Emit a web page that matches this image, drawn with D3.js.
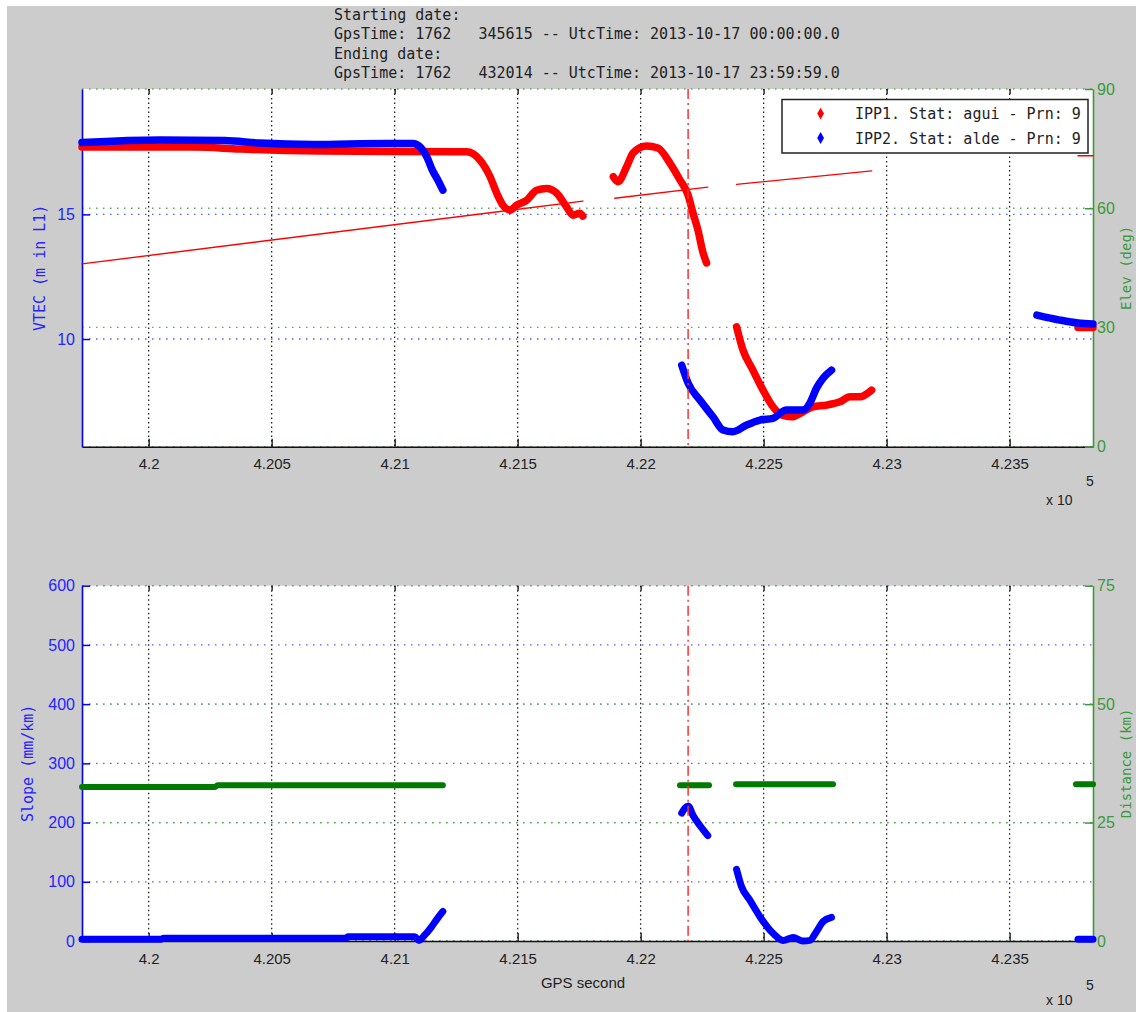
<!DOCTYPE html>
<html><head><meta charset="utf-8">
<script src="https://cdn.jsdelivr.net/npm/d3@7"></script>
<style>
body{margin:0;background:#fff;}
svg{display:block;}
</style></head><body>
<svg id="chart" width="1136" height="1012"></svg>
<script>
// ---- shared time axis (GPS seconds of week) ----
const xTicks = [420000, 420500, 421000, 421500, 422000, 422500, 423000, 423500];
const xDomain = [419729, 423839];
const eventTime = 422193;            // vertical dash-dot marker

// ---- axis ticks ----
const vtecTicks = [10, 15];
const elevTicks = [0, 30, 60, 90];
const slopeTicks = [0, 100, 200, 300, 400, 500, 600];
const distTicks = [0, 25, 50, 75];

// ---- header and legend text ----
const headerLines = [
  "Starting date:",
  "GpsTime: 1762   345615 -- UtcTime: 2013-10-17 00:00:00.0",
  "Ending date:",
  "GpsTime: 1762   432014 -- UtcTime: 2013-10-17 23:59:59.0"
];
const legendLabels = ["IPP1. Stat: agui - Prn: 9", "IPP2. Stat: alde - Prn: 9"];

// ---- VTEC (m in L1), IPP1 station agui, one array per arc ----
const vtecAgui = [
  [[419729,17.70],[420188,17.70],[420371,17.62],[420696,17.54],[421000,17.52],[421293,17.51],
   [421347,17.18],[421388,16.51],[421415,15.85],[421440,15.37],[421469,15.17],[421496,15.37],
   [421537,15.57],[421577,15.97],[421618,16.04],[421659,15.85],[421699,15.30],[421725,14.97],
   [421753,15.05],[421765,14.93]],
  [[421889,16.51],[421908,16.31],[421943,16.91],[421969,17.46],[422024,17.74],[422070,17.66],
   [422119,17.06],[422160,16.38],[422193,15.77],[422213,15.05],[422233,14.37],[422254,13.45],
   [422268,13.05]],
  [[422390,10.49],[422416,9.56],[422456,8.76],[422497,7.96],[422538,7.28],[422573,6.95],
   [422614,6.88],[422660,7.08],[422700,7.28],[422756,7.35],[422810,7.48],[422851,7.68],
   [422891,7.68],[422939,7.95]],
  [[423778,10.46],[423839,10.46]]
];

// ---- VTEC (m in L1), IPP2 station alde ----
const vtecAlde = [
  [[419729,17.88],[420046,17.98],[420310,17.96],[420452,17.86],[420668,17.80],[420961,17.84],
   [421074,17.84],[421102,17.72],[421131,17.30],[421155,16.74],[421176,16.37],[421196,15.97]],
  [[422167,8.95],[422193,8.23],[422241,7.55],[422294,6.88],[422335,6.35],[422375,6.28],
   [422431,6.55],[422485,6.75],[422538,6.82],[422593,7.15],[422660,7.15],[422688,7.43],
   [422715,8.03],[422742,8.43],[422776,8.75]],
  [[423611,10.96],[423704,10.76],[423778,10.64],[423839,10.60]]
];

// ---- satellite elevation (deg) seen from agui ----
const elevAgui = [
  [[419729,46.0],[421765,61.8]],
  [[421895,62.5],[422273,65.3]],
  [[422390,66.0],[422939,69.4]],
  [[423778,73.2],[423839,73.2]]
];

// ---- gradient slope (mm/km) between the two IPPs ----
const slopePair = [
  [[419729,3],[420050,3],[420060,4.5],[420800,4.5],[420810,7],[421082,7],[421099,1],
   [421120,9],[421150,24],[421172,37],[421196,50]],
  [[422167,216],[422193,228],[422213,212],[422241,195],[422273,178]],
  [[422390,121],[422410,92],[422444,69],[422485,41],[422538,13],[422579,1],[422620,6],
   [422660,0],[422688,1],[422715,16],[422742,33],[422776,40]],
  [[423778,3],[423839,3]]
];

// ---- distance between IPPs (km) ----
const distPair = [
  [[419729,32.5],[420270,32.5],[420280,32.9],[421196,32.9]],
  [[422160,32.9],[422278,32.9]],
  [[422388,33.1],[422782,33.1]],
  [[423770,33.1],[423839,33.1]]
];

// ---------------------------------------------------------------
const BLUE = "#0000ff", RED = "#ff0000", GREENAX = "#3a9a3a", GREENDATA = "#007a00";
const BLUETXT = "#2424ff", TXT = "#222";
const MONO = "'DejaVu Sans Mono', monospace";
const SANS = "'Liberation Sans', Arial, sans-serif";

const svg = d3.select("#chart");
svg.append("rect").attr("x", 7).attr("y", 6).attr("width", 1129).attr("height", 1006).attr("fill", "#cccccc");

const L = 82, R = 1093;
const x = d3.scaleLinear().domain(xDomain).range([L, R]);

const panels = [
  { top: 89, bottom: 446.7, left: d3.scaleLinear().domain([5.68, 20.03]),
    right: d3.scaleLinear().domain([0, 90]), lt: vtecTicks, rt: elevTicks,
    ltitle: "VTEC (m in L1)", rtitle: "Elev (deg)", id: "p1" },
  { top: 585.7, bottom: 941, left: d3.scaleLinear().domain([0, 600]),
    right: d3.scaleLinear().domain([0, 75]), lt: slopeTicks, rt: distTicks,
    ltitle: "Slope (mm/km)", rtitle: "Distance (km)", id: "p2" }
];

const fmtX = t => String(+(t / 1e5).toFixed(3));

panels.forEach(p => {
  p.left.range([p.bottom, p.top]);
  p.right.range([p.bottom, p.top]);
  const g = svg.append("g");
  g.append("rect").attr("x", L).attr("y", p.top).attr("width", R - L).attr("height", p.bottom - p.top).attr("fill", "#fff");
  svg.append("clipPath").attr("id", "clip-" + p.id).append("rect")
    .attr("x", L - 4).attr("y", p.top - 4).attr("width", R - L + 8).attr("height", p.bottom - p.top + 8);

  // vertical grid
  g.selectAll(".vg").data(xTicks).join("line")
    .attr("x1", d => x(d)).attr("x2", d => x(d)).attr("y1", p.top).attr("y2", p.bottom)
    .attr("stroke", "#222").attr("stroke-width", 1.3).attr("stroke-dasharray", "1.5,3");
  // horizontal grids: left axis (blue) then right axis (green)
  g.selectAll(".hb").data(p.lt).join("line")
    .attr("x1", L).attr("x2", R).attr("y1", d => p.left(d)).attr("y2", d => p.left(d))
    .attr("stroke", "#5a5aff").attr("stroke-width", 1.3).attr("stroke-dasharray", "1.5,5.5");
  g.selectAll(".hg").data(p.rt).join("line")
    .attr("x1", L).attr("x2", R).attr("y1", d => p.right(d)).attr("y2", d => p.right(d))
    .attr("stroke", "#5aaa5a").attr("stroke-width", 1.3).attr("stroke-dasharray", "1.5,5.5");

  // bottom x axis
  const xb = svg.append("g").attr("transform", `translate(0,${p.bottom})`)
    .call(d3.axisBottom(x).tickValues(xTicks).tickFormat(fmtX).tickSizeInner(-8).tickSizeOuter(0).tickPadding(12));
  xb.select(".domain").attr("stroke", "#111").attr("stroke-width", 1.5);
  xb.selectAll(".tick line").attr("stroke", "#111").attr("stroke-width", 1.3);
  xb.selectAll("text").attr("font-family", SANS).attr("font-size", 15).attr("fill", TXT);
  // top ticks only
  const xt = svg.append("g").attr("transform", `translate(0,${p.top})`)
    .call(d3.axisTop(x).tickValues(xTicks).tickFormat("").tickSizeInner(-5).tickSizeOuter(0));
  xt.select(".domain").remove();
  xt.selectAll(".tick line").attr("stroke", "#111").attr("stroke-width", 1.3);

  // left axis
  const ya = svg.append("g").attr("transform", `translate(${L},0)`)
    .call(d3.axisLeft(p.left).tickValues(p.lt).tickSizeInner(-8).tickSizeOuter(0).tickPadding(7));
  ya.select(".domain").attr("stroke", BLUE).attr("stroke-width", 1.6);
  ya.selectAll(".tick line").attr("stroke", BLUE).attr("stroke-width", 1.5);
  ya.selectAll("text").attr("font-family", SANS).attr("font-size", 16).attr("fill", BLUETXT);
  // right axis
  const yr = svg.append("g").attr("transform", `translate(${R},0)`)
    .call(d3.axisRight(p.right).tickValues(p.rt).tickSizeInner(-8).tickSizeOuter(0).tickPadding(4));
  yr.select(".domain").attr("stroke", GREENAX).attr("stroke-width", 1.6);
  yr.selectAll(".tick line").attr("stroke", GREENAX).attr("stroke-width", 1.5);
  yr.selectAll("text").attr("font-family", SANS).attr("font-size", 16).attr("fill", GREENAX);

  const mid = (p.top + p.bottom) / 2;
  svg.append("text").attr("transform", `translate(${p.id === "p1" ? 45 : 33},${mid}) rotate(-90)`)
    .attr("text-anchor", "middle").attr("font-family", MONO).attr("font-size", 15)
    .attr("fill", BLUETXT).text(p.ltitle);
  svg.append("text").attr("transform", `translate(1131,${mid}) rotate(-90)`)
    .attr("text-anchor", "middle").attr("font-family", MONO).attr("font-size", 14)
    .attr("fill", GREENAX).text(p.rtitle);

  // x10^5 exponent
  svg.append("text").attr("x", 1086).attr("y", p.bottom + (p.id === "p1" ? 39 : 49))
    .attr("font-family", SANS).attr("font-size", 14).attr("fill", TXT).text("5");
  svg.append("text").attr("x", 1046).attr("y", p.bottom + (p.id === "p1" ? 58 : 64))
    .attr("font-family", SANS).attr("font-size", 14).attr("fill", TXT).text("x 10");

  p.g = svg.append("g").attr("clip-path", `url(#clip-${p.id})`);
});

const [P1, P2] = panels;

function drawSeries(panel, scale, segs, color, width) {
  const line = d3.line().x(d => x(d[0])).y(d => scale(d[1])).curve(d3.curveMonotoneX);
  panel.g.selectAll(null).data(segs).join("path")
    .attr("d", line).attr("fill", "none").attr("stroke", color)
    .attr("stroke-width", width).attr("stroke-linejoin", "round").attr("stroke-linecap", "round");
}

// top panel: VTEC for both IPPs, elevation of IPP1
drawSeries(P1, P1.left, vtecAgui, RED, 7.5);
drawSeries(P1, P1.left, vtecAlde, BLUE, 7.5);
drawSeries(P1, P1.right, elevAgui, RED, 1.4);

// bottom panel: slope and distance
drawSeries(P2, P2.left, slopePair, BLUE, 7);
drawSeries(P2, P2.right, distPair, GREENDATA, 6);

// event marker across both panels
panels.forEach(p => {
  svg.append("line").attr("x1", x(eventTime)).attr("x2", x(eventTime))
    .attr("y1", p.top).attr("y2", p.bottom)
    .attr("stroke", "#ff3030").attr("stroke-width", 1.5).attr("stroke-dasharray", "10,4,2,4");
});

// x-axis title of the lower panel
svg.append("text").attr("x", 583).attr("y", 988).attr("text-anchor", "middle")
  .attr("font-family", SANS).attr("font-size", 15).attr("fill", TXT).text("GPS second");

// header
svg.selectAll(".hdr").data(headerLines).join("text")
  .attr("x", 334).attr("y", (d, i) => 20 + i * 19.3)
  .attr("font-family", MONO).attr("font-size", 15).attr("fill", TXT)
  .attr("xml:space", "preserve").style("white-space", "pre").text(d => d);

// legend
const lg = svg.append("g");
lg.append("rect").attr("x", 782).attr("y", 99.5).attr("width", 306).attr("height", 53.5)
  .attr("fill", "#fff").attr("stroke", "#222").attr("stroke-width", 1.5);
[RED, BLUE].forEach((c, i) => {
  const cy = 113.6 + i * 24.4;
  lg.append("path").attr("d", d3.symbol(d3.symbolDiamond, 40)())
    .attr("transform", `translate(820.6,${cy})`).attr("fill", c);
  lg.append("text").attr("x", 855).attr("y", cy + 5.5)
    .attr("font-family", MONO).attr("font-size", 15).attr("fill", TXT)
    .style("white-space", "pre").text(legendLabels[i]);
});
</script>
</body></html>
